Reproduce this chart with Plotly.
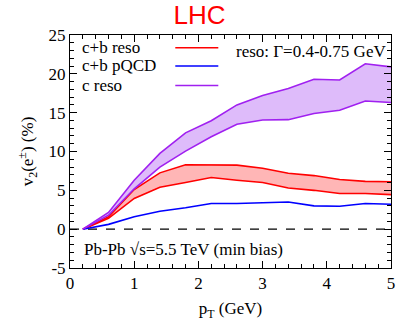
import plotly.graph_objects as go

pt = [0.2, 0.6, 1.0, 1.4, 1.8, 2.2, 2.6, 3.0, 3.4, 3.8, 4.2, 4.6, 5.0]
cb_reso_low = [0.0, 1.4, 3.95, 5.4, 6.0, 6.65, 6.3, 6.0, 5.3, 5.0, 4.6, 4.6, 4.45]
cb_reso_high = [0.0, 1.6, 5.1, 7.25, 8.3, 8.3, 8.25, 7.85, 7.2, 6.9, 6.4, 6.15, 6.1]
cb_pqcd = [0.0, 0.62, 1.6, 2.3, 2.75, 3.3, 3.3, 3.4, 3.5, 3.0, 2.95, 3.3, 3.2]
c_reso_low = [0.0, 1.8, 5.2, 8.0, 10.05, 11.9, 13.5, 14.05, 14.1, 14.9, 15.3, 16.5, 16.3]
c_reso_high = [0.0, 2.15, 6.3, 9.75, 12.4, 13.96, 16.0, 17.2, 18.1, 19.3, 19.2, 21.3, 20.9]
zero_x = [0, 5]
zero_y = [0, 0]

y_tickvals = [-5, 0, 5, 10, 15, 20, 25]
y_ticktext = ["-5", "0", "5", "10", "15", "20", "25"]

legend_names = ["c+b reso", "c+b pQCD", "c reso"]
legend_colors = ["#ff0000", "#0000ff", "#a020f0"]

RED = "#ff0000"
BLUE = "#0000ff"
PURPLE = "#a020f0"
SERIF = "Liberation Serif"

fig = go.Figure()

fig.add_trace(go.Scatter(x=zero_x, y=zero_y, mode="lines",
                         line=dict(color="black", width=1.2, dash="dash"), showlegend=False))
# red band
fig.add_trace(go.Scatter(x=pt, y=cb_reso_low, mode="lines",
                         line=dict(color=RED, width=1.6), showlegend=False))
fig.add_trace(go.Scatter(x=pt, y=cb_reso_high, mode="lines", fill="tonexty",
                         fillcolor="rgba(255,110,110,0.5)",
                         line=dict(color=RED, width=1.6), showlegend=False))
# blue
fig.add_trace(go.Scatter(x=pt, y=cb_pqcd, mode="lines",
                         line=dict(color=BLUE, width=1.6), showlegend=False))
# purple band
fig.add_trace(go.Scatter(x=pt, y=c_reso_low, mode="lines",
                         line=dict(color=PURPLE, width=1.6), showlegend=False))
fig.add_trace(go.Scatter(x=pt, y=c_reso_high, mode="lines", fill="tonexty",
                         fillcolor="rgba(190,120,245,0.5)",
                         line=dict(color=PURPLE, width=1.6), showlegend=False))

# legend (gnuplot style: text left, sample right)
leg_y = [0.945, 0.867, 0.783]
for name, col, yy in zip(legend_names, legend_colors, leg_y):
    fig.add_annotation(x=0.032, y=yy, xref="paper", yref="paper", text=name,
                       showarrow=False, xanchor="left", yanchor="middle",
                       font=dict(family=SERIF, size=17, color="black"))
    fig.add_shape(type="line", xref="paper", yref="paper", x0=0.328, x1=0.462,
                  y0=yy, y1=yy, line=dict(color=col, width=1.6))

fig.add_annotation(x=0.992, y=0.928, xref="paper", yref="paper",
                   text="reso: Γ=0.4-0.75 GeV", showarrow=False,
                   xanchor="right", yanchor="middle",
                   font=dict(family=SERIF, size=17, color="black"))
fig.add_annotation(x=0.038, y=0.08, xref="paper", yref="paper",
                   text="Pb-Pb √s=5.5 TeV (min bias)", showarrow=False,
                   xanchor="left", yanchor="middle",
                   font=dict(family=SERIF, size=17, color="black"))

axis_common = dict(showgrid=False, zeroline=False, showline=True, linecolor="black",
                   linewidth=1, mirror="allticks", ticks="inside", ticklen=7,
                   tickcolor="black", tickwidth=1, automargin=False,
                   tickfont=dict(family=SERIF, size=17, color="black"))

fig.update_xaxes(range=[0, 5], dtick=1, tick0=0,
                 minor=dict(dtick=0.2, ticks="inside", ticklen=4, tickcolor="black"),
                 title=dict(text="p<sub>T</sub> (GeV)",
                            font=dict(family=SERIF, size=17, color="black"),
                            standoff=10),
                 **axis_common)
fig.update_yaxes(range=[-5, 25], tickmode="array", tickvals=y_tickvals, ticktext=y_ticktext,
                 minor=dict(dtick=1, tick0=0, ticks="inside", ticklen=4, tickcolor="black"),
                 title=dict(text="v<sub>2</sub>(e<sup>±</sup>) (%)",
                            font=dict(family=SERIF, size=17, color="black"), standoff=10),
                 **axis_common)

fig.update_layout(
    width=399, height=321,
    margin=dict(l=70, r=8, t=35, b=53),
    paper_bgcolor="white", plot_bgcolor="white",
    title=dict(text="LHC", x=0.5, xref="container", xanchor="center",
               y=0.955, yref="container", yanchor="middle",
               font=dict(family="Liberation Sans", size=26, color="#ff0000")),
    showlegend=False,
)

fig.write_html("out.html", config={"displayModeBar": False},
               post_script="document.body.style.margin='0';document.body.style.padding='0';")
